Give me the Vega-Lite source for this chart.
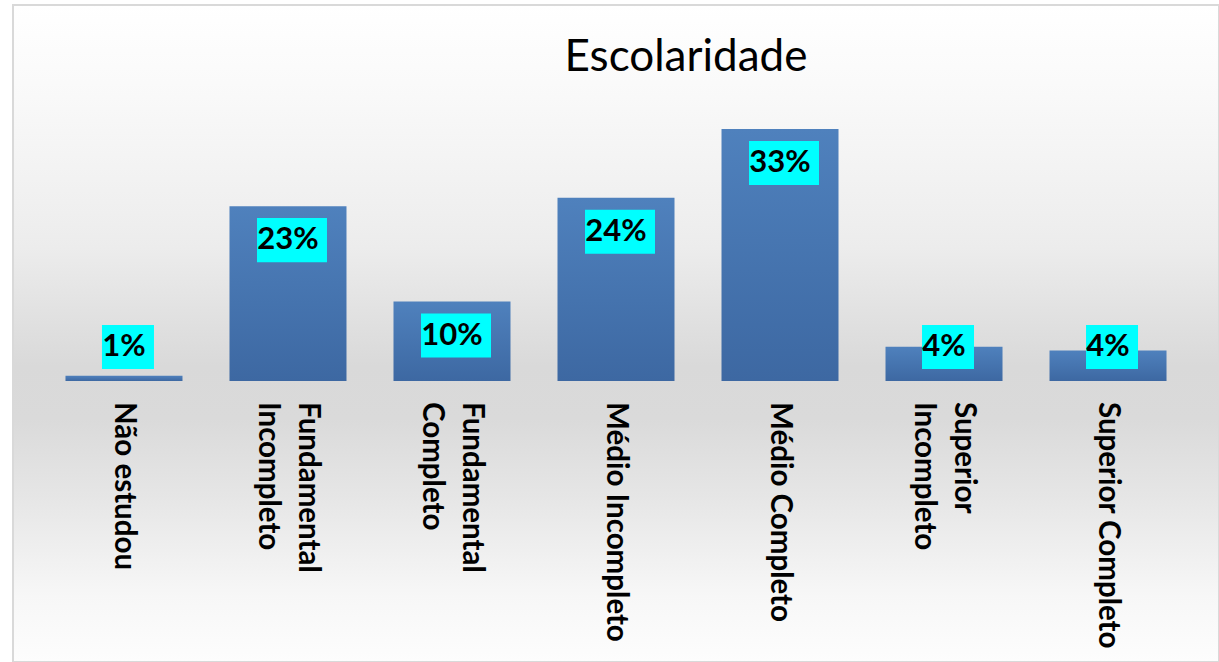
{
  "$schema": "https://vega.github.io/schema/vega-lite/v6.json",
  "autosize": {"type": "fit", "contains": "padding"},
  "width": 1219,
  "height": 662,
  "padding": {"left": 13, "top": 5, "right": 0, "bottom": 0},
  "background": "#ffffff",
  "view": {
    "stroke": "#d9d9d9",
    "strokeWidth": 2,
    "fill": {
      "gradient": "linear", "x1": 0, "y1": 0, "x2": 0, "y2": 1,
      "stops": [
        {"offset": 0, "color": "#ffffff"},
        {"offset": 0.14, "color": "#f9f9f9"},
        {"offset": 0.37, "color": "#ececec"},
        {"offset": 0.55, "color": "#d9d9d9"},
        {"offset": 0.63, "color": "#dadada"},
        {"offset": 0.75, "color": "#e6e6e6"},
        {"offset": 0.9, "color": "#f7f7f7"},
        {"offset": 1, "color": "#fdfdfd"}
      ]
    }
  },
  "data": {
    "values": [
      {"cat": "Não estudou", "value": 0.7, "label": "1%"},
      {"cat": "Fundamental\nIncompleto", "value": 22.9, "label": "23%"},
      {"cat": "Fundamental\nCompleto", "value": 10.4, "label": "10%"},
      {"cat": "Médio Incompleto", "value": 24.0, "label": "24%"},
      {"cat": "Médio Completo", "value": 33.0, "label": "33%"},
      {"cat": "Superior\nIncompleto", "value": 4.5, "label": "4%"},
      {"cat": "Superior Completo", "value": 4.0, "label": "4%"}
    ]
  },
  "encoding": {
    "x": {
      "field": "cat", "type": "nominal", "sort": null,
      "scale": {"paddingInner": 0.2866, "paddingOuter": 0.32},
      "axis": null
    }
  },
  "layer": [
    {
      "mark": {
        "type": "bar",
        "color": {
          "gradient": "linear", "x1": 0, "y1": 0, "x2": 0, "y2": 1,
          "stops": [
            {"offset": 0, "color": "#4f81bd"},
            {"offset": 1, "color": "#3d68a2"}
          ]
        }
      },
      "encoding": {
        "y": {
          "field": "value", "type": "quantitative",
          "scale": {"domain": [-36.8, 49.24], "nice": false, "zero": false},
          "axis": null
        },
        "y2": {"datum": 0}
      }
    },
    {
      "transform": [{"filter": "datum.value >= 8"}],
      "mark": {
        "type": "point",
        "shape": "M-1,-0.629H1V0.629H-1Z",
        "size": 4900,
        "filled": true,
        "opacity": 1,
        "color": "#00ffff",
        "strokeWidth": 0,
        "xOffset": 4,
        "yOffset": 34
      },
      "encoding": {
        "y": {"field": "value", "type": "quantitative"}
      }
    },
    {
      "transform": [{"filter": "datum.value < 8"}],
      "mark": {
        "type": "point",
        "shape": "M-1,-0.846H1V0.846H-1Z",
        "size": 2704,
        "filled": true,
        "opacity": 1,
        "color": "#00ffff",
        "strokeWidth": 0,
        "xOffset": 4,
        "yOffset": -34
      },
      "encoding": {
        "y": {"datum": 0}
      }
    },
    {
      "transform": [{"filter": "datum.value >= 8"}],
      "mark": {
        "type": "text",
        "font": "Lato",
        "fontSize": 31,
        "fontWeight": "bold",
        "color": "#000000",
        "align": "center",
        "baseline": "middle",
        "yOffset": 34
      },
      "encoding": {
        "y": {"field": "value", "type": "quantitative"},
        "text": {"field": "label"}
      }
    },
    {
      "transform": [{"filter": "datum.value < 8"}],
      "mark": {
        "type": "text",
        "font": "Lato",
        "fontSize": 31,
        "fontWeight": "bold",
        "color": "#000000",
        "align": "center",
        "baseline": "middle",
        "yOffset": -34
      },
      "encoding": {
        "y": {"datum": 0},
        "text": {"field": "label"}
      }
    },
    {
      "transform": [{"filter": "indexof(datum.cat, '\\n') < 0"}],
      "mark": {
        "type": "text",
        "font": "Lato",
        "fontSize": 29.5,
        "fontWeight": "bold",
        "color": "#000000",
        "angle": 90,
        "align": "left",
        "baseline": "middle",
        "yOffset": 21
      },
      "encoding": {
        "y": {"datum": 0},
        "text": {"field": "cat"}
      }
    },
    {
      "transform": [{"filter": "indexof(datum.cat, '\\n') >= 0"}],
      "mark": {
        "type": "text",
        "font": "Lato",
        "fontSize": 29.5,
        "fontWeight": "bold",
        "color": "#000000",
        "angle": 90,
        "align": "left",
        "baseline": "middle",
        "lineBreak": "\n",
        "lineHeight": 40,
        "dy": -20,
        "yOffset": 21
      },
      "encoding": {
        "y": {"datum": 0},
        "text": {"field": "cat"}
      }
    },
    {
      "data": {"values": [{"title": "Escolaridade"}]},
      "mark": {
        "type": "text",
        "font": "Lato",
        "fontSize": 44,
        "fontWeight": "normal",
        "color": "#000000",
        "align": "center",
        "baseline": "alphabetic",
        "xOffset": 70
      },
      "encoding": {
        "x": {"datum": "Médio Incompleto"},
        "y": {"datum": 40.6},
        "text": {"field": "title"}
      }
    }
  ]
}
